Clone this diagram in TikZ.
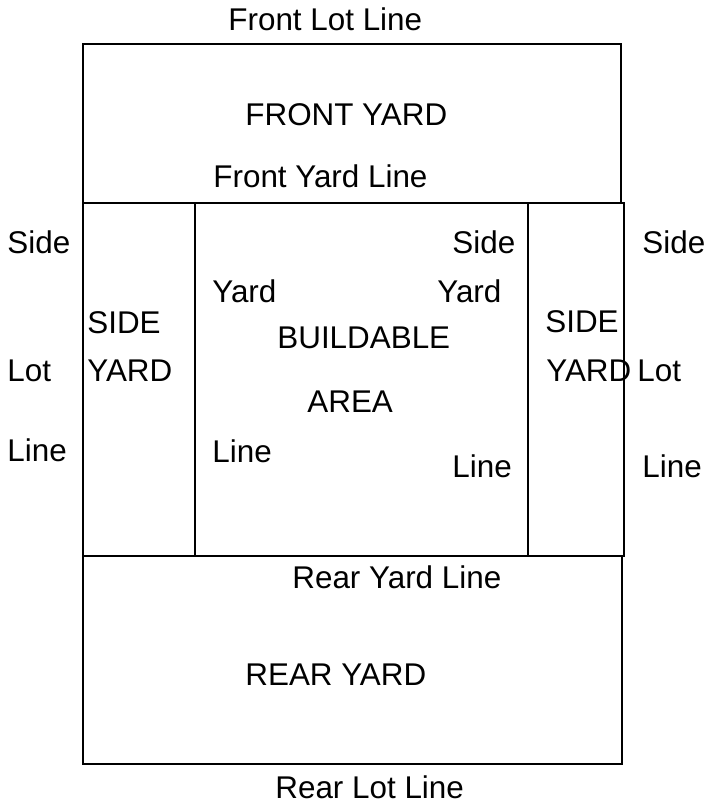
\documentclass[tikz,border=0pt]{standalone}
\usepackage{fontspec}
\setmainfont{Liberation Sans}
\usepackage{tikz}

\begin{document}
\begin{tikzpicture}[
    x=0.5pt, y=-0.5pt,
    lotline/.style={draw=black, line width=1.2pt},
    lbl/.style={inner sep=0pt, anchor=base west, font=\fontsize{15.7}{19}\selectfont}
]
\useasboundingbox (0,0) rectangle (706,804);

% yards
\draw[lotline] (83,44) rectangle (621,203);
\draw[lotline] (83,203) rectangle (624,556);
\draw[lotline] (83,556) rectangle (622,764);
\draw[lotline] (195,203) -- (195,556);
\draw[lotline] (528,203) -- (528,556);

% front
\node[lbl] (frontlot) at (228,30) {Front Lot Line};
\node[lbl] (frontyard) at (245,125) {FRONT YARD};
\node[lbl] (frontline) at (213,187) {Front Yard Line};

% left side
\node[lbl] (lside) at (7,253) {Side};
\node[lbl] (llot) at (7,381) {Lot};
\node[lbl] (lline) at (7,461) {Line};
\node[lbl] (lsyard1) at (87,333) {SIDE};
\node[lbl] (lsyard2) at (87,381) {YARD};
\node[lbl] (lyard) at (212,302) {Yard};
\node[lbl] (lyline) at (212,462) {Line};

% buildable area
\node[lbl] (build) at (277,348) {BUILDABLE};
\node[lbl] (area) at (307,412) {AREA};

% right side
\node[lbl] (rsideyd) at (452,253) {Side};
\node[lbl] (ryard) at (437,302) {Yard};
\node[lbl] (ryline) at (452,477) {Line};
\node[lbl] (rsyard1) at (545,332) {SIDE};
\node[lbl] (rsyard2) at (546,381) {YARD};
\node[lbl] (rside) at (642,253) {Side};
\node[lbl] (rlot) at (637,381) {Lot};
\node[lbl] (rline) at (642,477) {Line};

% rear
\node[lbl] (rearline) at (292,588) {Rear Yard Line};
\node[lbl] (rearyard) at (245,685) {REAR YARD};
\node[lbl] (rearlot) at (275,798) {Rear Lot Line};
\end{tikzpicture}
\end{document}
